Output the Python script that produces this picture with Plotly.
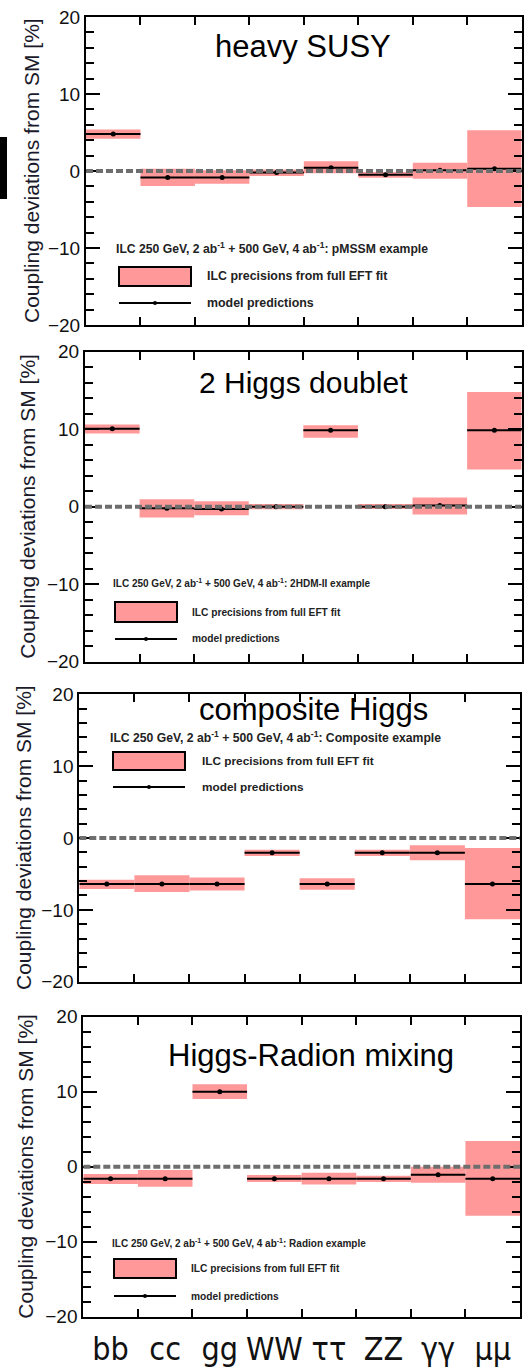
import plotly.graph_objects as go

W, H = 524, 1368

channels = ["bb", "cc", "gg", "WW", "ττ", "ZZ", "γγ", "μμ"]

titles = ["heavy SUSY", "2 Higgs doublet", "composite Higgs", "Higgs-Radion mixing"]
examples = ["pMSSM example", "2HDM-II example", "Composite example", "Radion example"]

susy_pred = [4.8, -0.85, -0.85, -0.2, 0.43, -0.5, 0.1, 0.3]
susy_lo = [4.2, -1.95, -1.64, -0.65, -0.3, -0.87, -1.0, -4.68]
susy_hi = [5.4, 0.3, 0.1, 0.2, 1.26, -0.13, 1.08, 5.28]

thdm_pred = [10.06, -0.2, -0.3, 0.0, 9.85, 0.0, 0.17, 9.85]
thdm_lo = [9.46, -1.38, -1.1, -0.34, 8.9, -0.3, -1.0, 4.8]
thdm_hi = [10.62, 0.95, 0.69, 0.34, 10.5, 0.34, 1.2, 14.8]

comp_pred = [-6.4, -6.4, -6.4, -2.04, -6.4, -2.04, -2.04, -6.4]
comp_lo = [-7.1, -7.5, -7.3, -2.5, -7.2, -2.5, -3.1, -11.3]
comp_hi = [-5.8, -5.2, -5.5, -1.65, -5.6, -1.65, -1.0, -1.4]

rad_pred = [-1.6, -1.6, 10.0, -1.6, -1.6, -1.6, -1.07, -1.6]
rad_lo = [-2.3, -2.67, 9.02, -2.04, -2.36, -2.04, -2.13, -6.53]
rad_hi = [-0.98, -0.44, 10.98, -1.1, -0.8, -1.2, 0.0, 3.42]

preds = [susy_pred, thdm_pred, comp_pred, rad_pred]
los = [susy_lo, thdm_lo, comp_lo, rad_lo]
his = [susy_hi, thdm_hi, comp_hi, rad_hi]

# panel frames in pixels (left, right, top, bottom)
frames = [
    (86, 521.7, 17, 325),
    (85, 521.7, 351.7, 661.7),
    (79.3, 520, 694.3, 981.7),
    (83.3, 520, 1016.7, 1316.7),
]
# title positions (x center, y center, size)
title_pos = [(303, 47, 31), (303, 383, 30), (313, 709, 31), (311, 1055, 31)]
ytitle_x = [31, 28, 23, 26]
# legend layout: header(x,y,size), box(x0,x1,y0,y1), text x, line y, text size
legends = [
    dict(hx=114, hy=248, hs=12.2, bx0=119, bx1=191, by0=267, by1=286, tx=205, ly=303, ts=12.4),
    dict(hx=111, hy=583, hs=10.0, bx0=115, bx1=177, by0=602, by1=622, tx=190, ly=639, ts=10.2),
    dict(hx=108, hy=737, hs=12.2, bx0=113, bx1=185, by0=752, by1=770, tx=200, ly=787, ts=11.8),
    dict(hx=110, hy=1243, hs=10.0, bx0=114, bx1=176, by0=1259, by1=1278, tx=189, ly=1296, ts=10.2),
]

PINK = "#ff9999"
FONT = "Liberation Sans, Arial, sans-serif"

def px(x):
    return x / W

def py(y):
    return 1 - y / H

fig = go.Figure()
shapes = []
annotations = []
layout = {}

centers = [i + 0.5 for i in range(len(channels))]

for k in range(4):
    xa = "x" if k == 0 else f"x{k+1}"
    ya = "y" if k == 0 else f"y{k+1}"
    l, r, t, b = frames[k]
    lo, hi, pr = los[k], his[k], preds[k]

    # precision bands
    fig.add_trace(go.Bar(
        x=centers, y=[h - q for h, q in zip(hi, lo)], base=lo, width=1.0,
        marker=dict(color=PINK, line=dict(width=0)), xaxis=xa, yaxis=ya,
        showlegend=False, hoverinfo="skip"))

    # model prediction lines
    lx, lyv = [], []
    for i, v in enumerate(pr):
        lx += [i, i + 1, None]
        lyv += [v, v, None]
    fig.add_trace(go.Scatter(x=lx, y=lyv, mode="lines", line=dict(color="black", width=2),
                             xaxis=xa, yaxis=ya, showlegend=False, hoverinfo="skip"))
    fig.add_trace(go.Scatter(x=centers, y=pr, mode="markers",
                             marker=dict(color="black", size=5),
                             xaxis=xa, yaxis=ya, showlegend=False))

    # dashed zero line
    shapes.append(dict(type="line", xref=xa, yref=ya, x0=0, x1=8, y0=0, y1=0,
                       line=dict(color="#6e6e6e", width=4, dash="7px,3px"), layer="above"))

    axkey = "xaxis" if k == 0 else f"xaxis{k+1}"
    aykey = "yaxis" if k == 0 else f"yaxis{k+1}"
    layout[axkey] = dict(
        domain=[px(l), px(r)], anchor=ya, range=[0, 8], automargin=False,
        tickmode="array", tickvals=centers, ticktext=channels,
        showticklabels=(k == 3), ticks="", ticklabelstandoff=3,
        tickfont=dict(family="Liberation Sans Narrow, DejaVu Sans Condensed, Liberation Sans",
                      size=32, color="#111"),
        minor=dict(tickmode="array", tickvals=[1, 2, 3, 4, 5, 6, 7], ticks="inside",
                   ticklen=8, tickwidth=2, tickcolor="black"),
        showline=True, linecolor="black", linewidth=2, mirror="allticks",
        showgrid=False, zeroline=False, fixedrange=True,
    )
    layout[aykey] = dict(
        domain=[py(b), py(t)], anchor=xa, range=[-20, 20], automargin=False,
        tickmode="linear", tick0=0, dtick=10,
        ticks="inside", ticklen=14, tickwidth=2, tickcolor="black",
        minor=dict(dtick=2, tick0=0, ticks="inside", ticklen=8, tickwidth=2, tickcolor="black"),
        tickfont=dict(family=FONT, size=19, color="#111"),
        showline=True, linecolor="black", linewidth=2, mirror="allticks",
        showgrid=False, zeroline=False, fixedrange=True,
    )

    # panel title
    tx, ty, ts = title_pos[k]
    annotations.append(dict(text=titles[k], x=px(tx), y=py(ty), xref="paper", yref="paper",
                            showarrow=False, xanchor="center", yanchor="middle",
                            font=dict(family=FONT, size=ts, color="black")))
    # y axis title
    annotations.append(dict(text="Coupling deviations from SM [%]", x=px(ytitle_x[k]),
                            y=py((t + b) / 2), xref="paper", yref="paper", textangle=-90,
                            showarrow=False, xanchor="center", yanchor="middle",
                            font=dict(family=FONT, size=21, color="#1a1a2a")))
    # legend
    lg = legends[k]
    annotations.append(dict(
        text="<b>ILC 250 GeV, 2 ab<sup>-1</sup> + 500 GeV, 4 ab<sup>-1</sup>: " + examples[k] + "</b>",
        x=px(lg["hx"]), y=py(lg["hy"]), xref="paper", yref="paper", showarrow=False,
        xanchor="left", yanchor="middle", font=dict(family=FONT, size=lg["hs"], color="#222")))
    shapes.append(dict(type="rect", xref="paper", yref="paper",
                       x0=px(lg["bx0"]), x1=px(lg["bx1"]), y0=py(lg["by1"]), y1=py(lg["by0"]),
                       fillcolor=PINK, line=dict(color="black", width=2)))
    annotations.append(dict(text="<b>ILC precisions from full EFT fit</b>",
                            x=px(lg["tx"]), y=py((lg["by0"] + lg["by1"]) / 2), xref="paper", yref="paper",
                            showarrow=False, xanchor="left", yanchor="middle",
                            font=dict(family=FONT, size=lg["ts"], color="#222")))
    shapes.append(dict(type="line", xref="paper", yref="paper",
                       x0=px(lg["bx0"]), x1=px(lg["bx1"]), y0=py(lg["ly"]), y1=py(lg["ly"]),
                       line=dict(color="black", width=2)))
    cx = (lg["bx0"] + lg["bx1"]) / 2
    shapes.append(dict(type="circle", xref="paper", yref="paper",
                       x0=px(cx - 2), x1=px(cx + 2), y0=py(lg["ly"] + 2), y1=py(lg["ly"] - 2),
                       fillcolor="black", line=dict(color="black", width=0)))
    annotations.append(dict(text="<b>model predictions</b>",
                            x=px(lg["tx"]), y=py(lg["ly"]), xref="paper", yref="paper",
                            showarrow=False, xanchor="left", yanchor="middle",
                            font=dict(family=FONT, size=lg["ts"], color="#222")))

# black bar artifact at left edge of the first panel
shapes.append(dict(type="rect", xref="paper", yref="paper", x0=0, x1=px(7),
                   y0=py(199), y1=py(137), fillcolor="black", line=dict(width=0)))

fig.update_layout(
    width=W, height=H, margin=dict(l=0, r=0, t=0, b=0, autoexpand=False),
    paper_bgcolor="white", plot_bgcolor="white",
    barmode="overlay", showlegend=False,
    shapes=shapes, annotations=annotations,
    font=dict(family=FONT),
    **layout,
)

fig.write_html("out.html")
